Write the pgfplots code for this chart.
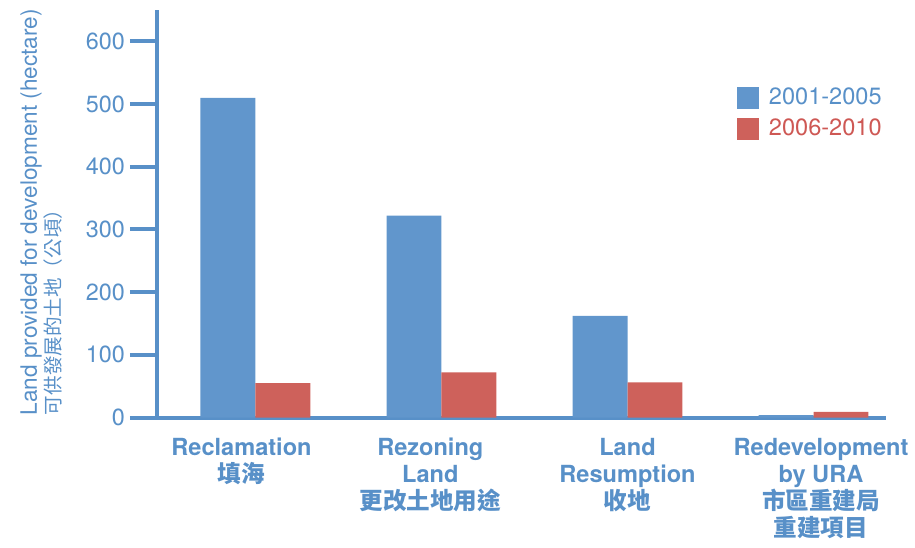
\documentclass[border=0pt]{standalone}
\usepackage{pgfplots}
\pgfplotsset{compat=1.18}
\usepackage{fontspec}
\setmainfont{TeX Gyre Heros}
\newfontfamily\cjk{Noto Sans CJK TC}
\definecolor{barblue}{RGB}{97,150,204}
\definecolor{barred}{RGB}{206,97,91}
\definecolor{txtblue}{RGB}{88,144,200}
\definecolor{txtred}{RGB}{206,88,84}
\begin{document}
\begin{tikzpicture}
\begin{axis}[name=ax, scale only axis, width=365pt, height=204pt,
  ybar=0pt, bar width=27.5pt,
  xmin=-0.53, xmax=3.39, ymin=0, ymax=650,
  axis lines=left, axis line style={-, draw=txtblue, line width=2pt},
  ytick={0,100,200,300,400,500,600}, tick align=outside, major tick length=13.5pt,
  ytick style={draw=txtblue, line width=2pt},
  xtick={-0.075,0.94,2,3.04}, xtick style={draw=none},
  xticklabels={{Reclamation\\{\cjk 填海}},{Rezoning\\Land\\{\cjk 更改土地用途}},{Land\\Resumption\\{\cjk 收地}},{Redevelopment\\by URA\\{\cjk 市區重建局}\\{\cjk 重建項目}}},
  xticklabel style={align=center, font=\fontsize{11.8}{13.5}\selectfont\bfseries, text=txtblue, anchor=north, yshift=6.8pt},
  yticklabel style={font=\fontsize{11.7}{14}\selectfont, text=txtblue, xshift=1pt},
  /pgf/number format/assume math mode=true,
  legend image code/.code={\fill[#1] (0pt,-5.5pt) rectangle (11pt,5.5pt);},
  legend style={at={(0.795,0.822)}, anchor=north west, draw=none, fill=none, inner sep=0pt,
    font=\fontsize{11.8}{14}\selectfont, row sep=0.8pt, column sep=2.5pt, nodes={inner sep=2.5pt}},
  legend cell align=left,
]
\addplot[fill=barblue, draw=none]
  coordinates {(0,510) (1,322) (2,162) (3,4)};
\addlegendentry{\textcolor{txtblue}{2001-2005}}
\addplot[fill=barred, draw=none]
  coordinates {(0,55) (1,72) (2,56) (3,9)};
\addlegendentry{\textcolor{txtred}{2006-2010}}
\end{axis}
\node[rotate=90, anchor=north west, align=left, inner sep=0pt, text=txtblue] at ([xshift=-68.5pt,yshift=1pt]ax.south west)
  {\fontsize{11.3}{10}\selectfont Land provided for development (hectare)\\[0pt]{\cjk\fontsize{9.8}{10}\selectfont 可供發展的土地（公頃）}};
\path ([xshift=-78.5pt,yshift=-65pt]ax.south west) rectangle ([xshift=14pt,yshift=5pt]ax.north east);
\end{tikzpicture}
\end{document}
